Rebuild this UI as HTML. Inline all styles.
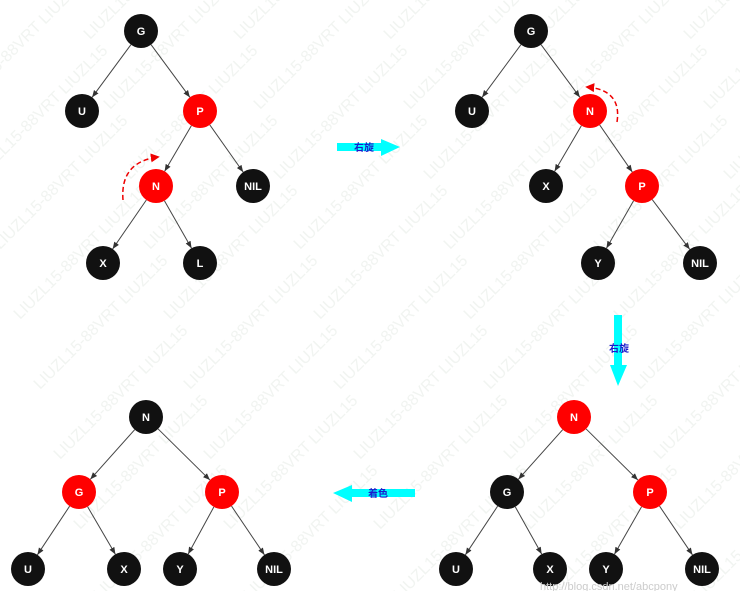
<!DOCTYPE html>
<html><head><meta charset="utf-8"><style>
body{margin:0;background:#fff}
svg{display:block}
text{font-family:"Liberation Sans","Noto Sans CJK SC",sans-serif}
</style></head><body>
<svg id="c" width="740" height="591">
<defs><marker id="ah" viewBox="0 0 10 10" refX="10" refY="5" markerWidth="7" markerHeight="7" orient="auto"><path d="M0,1 L10,5 L0,9 z" fill="#333"/></marker>
<marker id="rh" viewBox="0 0 10 10" refX="8" refY="5" markerWidth="6" markerHeight="6" orient="auto"><path d="M0,0 L10,5 L0,10 z" fill="#e00"/></marker></defs>
<g id="wm" fill="#f1f4f1" font-size="16"></g>
<g id="edges"></g><g id="nodes"></g>
<g>
<rect x="337" y="143" width="46" height="8" fill="#00ffff"/><path d="M381,139 L400,147 L381,156 z" fill="#00ffff"/>
<text x="364" y="151" font-size="10" font-weight="bold" fill="#1a1acc" text-anchor="middle">右旋</text></g>
<g>
<rect x="614" y="315" width="8" height="52" fill="#00ffff"/><path d="M610,365 L618,386 L627,365 z" fill="#00ffff"/>
<text x="619" y="352" font-size="10" font-weight="bold" fill="#1a1acc" text-anchor="middle">右旋</text></g>
<g>
<rect x="350" y="489" width="65" height="8" fill="#00ffff"/><path d="M352,485 L333,493 L352,502 z" fill="#00ffff"/>
<text x="378" y="497" font-size="10" font-weight="bold" fill="#1a1acc" text-anchor="middle">着色</text></g>
<path d="M123,200 Q120,162 158,157" fill="none" stroke="#e00" stroke-width="1.5" stroke-dasharray="5,3" marker-end="url(#rh)"/>
<path d="M617,122 Q622,90 587,87" fill="none" stroke="#e00" stroke-width="1.5" stroke-dasharray="5,3" marker-end="url(#rh)"/>
<text x="540" y="590" font-size="11" fill="#ccc">http://blog.csdn.net/abcpony</text>
</svg>
<script>
const labels=[["G","U","P","N","NIL","X","L"],["G","U","N","X","P","Y","NIL"],["N","G","P","U","X","Y","NIL"],["N","G","P","U","X","Y","NIL"]];
const colors=[["b","b","r","r","b","b","b"],["b","b","r","b","r","b","b"],["r","b","r","b","b","b","b"],["b","r","r","b","b","b","b"]];
const posX=[[141,82,200,156,253,103,200],[531,472,590,546,642,598,700],[574,507,650,456,550,606,702],[146,79,222,28,124,180,274]];
const posY=[[31,111,111,186,186,263,263],[31,111,111,186,186,263,263],[417,492,492,569,569,569,569],[417,492,492,569,569,569,569]];
const parents=[[-1,0,0,2,2,3,3],[-1,0,0,2,2,4,4],[-1,0,0,1,1,2,2],[-1,0,0,1,1,2,2]];
const R=17,NS="http://www.w3.org/2000/svg";
const E=document.getElementById('edges'),N=document.getElementById('nodes'),W=document.getElementById('wm');
for(let i=0;i<9;i++)for(let j=0;j<6;j++){const t=document.createElementNS(NS,'text');t.setAttribute('x',-60+j*150+i*20);t.setAttribute('y',40+i*70);t.setAttribute('transform',`rotate(-45 ${-60+j*150+i*20} ${40+i*70})`);t.textContent='LIUZL15-88VRT LIUZL15';

W.appendChild(t);}
labels.forEach((tr,t)=>{tr.forEach((lb,k)=>{const x=posX[t][k],y=posY[t][k],p=parents[t][k];
if(p>=0){const px=posX[t][p],py=posY[t][p],dx=x-px,dy=y-py,d=Math.hypot(dx,dy);
const l=document.createElementNS(NS,'line');l.setAttribute('x1',px+dx/d*R);l.setAttribute('y1',py+dy/d*R);l.setAttribute('x2',x-dx/d*R);l.setAttribute('y2',y-dy/d*R);l.setAttribute('stroke','#444');l.setAttribute('stroke-width','1');l.setAttribute('marker-end','url(#ah)');

E.appendChild(l);}
const g=document.createElementNS(NS,'g');


const c=document.createElementNS(NS,'circle');c.setAttribute('cx',x);c.setAttribute('cy',y);c.setAttribute('r',R);c.setAttribute('fill',colors[t][k]=='r'?'#ff0000':'#111');g.appendChild(c);
const tx=document.createElementNS(NS,'text');tx.setAttribute('x',x);tx.setAttribute('y',y+4);tx.setAttribute('text-anchor','middle');tx.setAttribute('font-size','11');tx.setAttribute('font-weight','bold');tx.setAttribute('fill','#fff');tx.textContent=lb;g.appendChild(tx);N.appendChild(g);});});
</script>
</body></html>
